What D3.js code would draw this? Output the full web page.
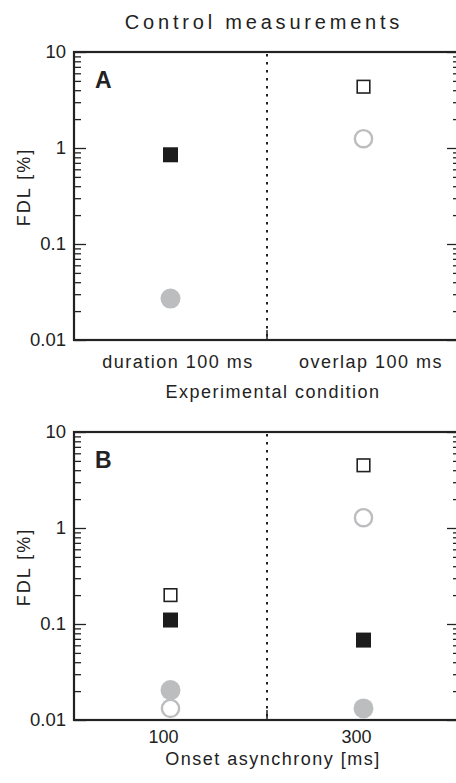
<!DOCTYPE html>
<html>
<head>
<meta charset="utf-8">
<script src="https://cdn.jsdelivr.net/npm/d3@7"></script>
<style>
  html, body { margin: 0; padding: 0; background: #fff; }
  svg { display: block; }
  text { font-family: "Liberation Sans", Arial, sans-serif; fill: #222; }
</style>
</head>
<body>
<svg id="chart" width="456" height="783"></svg>
<script>
// Panel A: control conditions
const conditionsA = ["duration 100 ms", "overlap 100 ms"];
const filledSquareA = [0.85, null];
const filledCircleA = [0.027, null];
const openSquareA   = [null, 4.35];
const openCircleA   = [null, 1.25];

// Panel B: onset asynchrony
const conditionsB = ["100", "300"];
const filledSquareB = [0.11, 0.068];
const filledCircleB = [0.0205, 0.0132];
const openSquareB   = [0.20, 4.5];
const openCircleB   = [0.0132, 1.28];

const yMajorTicks = [0.01, 0.1, 1, 10];
const yTickLabels = ["0.01", "0.1", "1", "10"];

const svg = d3.select("#chart");
const ink = "#222";
const grey = "#bcbdbf";

svg.append("text")
  .attr("x", 264).attr("y", 29)
  .attr("text-anchor", "middle")
  .style("font-size", "20px")
  .style("letter-spacing", "3.8px")
  .text("Control measurements");

// minor ticks for each decade (2..9 x 10^k)
const minorTicks = [];
for (let e = -2; e < 1; e++) for (let m = 2; m <= 9; m++) minorTicks.push(m * Math.pow(10, e));

function panel(cfg) {
  const left = 74, right = 460, top = cfg.top, bottom = cfg.top + 288;
  const g = svg.append("g");
  const x = d3.scalePoint().domain(cfg.categories).range([left, right]).padding(0.5);
  const y = d3.scaleLog().domain([0.01, 10]).range([bottom, top]);

  // left axis: major + minor ticks pointing inward
  const yl = g.append("g").attr("transform", `translate(${left},0)`)
    .call(d3.axisLeft(y).tickValues(yMajorTicks)
      .tickFormat((d, i) => yTickLabels[i]).tickSizeInner(-12).tickSizeOuter(0).tickPadding(8));
  yl.select(".domain").remove();
  yl.selectAll("line").attr("stroke", ink).attr("stroke-width", 1.3);
  yl.selectAll("text").style("font-size", "18.5px").attr("fill", ink);

  const ylm = g.append("g").attr("transform", `translate(${left},0)`)
    .call(d3.axisLeft(y).tickValues(minorTicks).tickFormat("").tickSizeInner(-7).tickSizeOuter(0));
  ylm.select(".domain").remove();
  ylm.selectAll("line").attr("stroke", ink).attr("stroke-width", 1.3);

  // right axis mirrors the ticks
  const yr = g.append("g").attr("transform", `translate(${right},0)`)
    .call(d3.axisRight(y).tickValues(yMajorTicks).tickFormat("").tickSizeInner(-13).tickSizeOuter(0));
  yr.select(".domain").remove();
  yr.selectAll("line").attr("stroke", ink).attr("stroke-width", 1.3);
  const yrm = g.append("g").attr("transform", `translate(${right},0)`)
    .call(d3.axisRight(y).tickValues(minorTicks).tickFormat("").tickSizeInner(-7).tickSizeOuter(0));
  yrm.select(".domain").remove();
  yrm.selectAll("line").attr("stroke", ink).attr("stroke-width", 1.3);

  // divider between the two conditions
  const mid = (x(cfg.categories[0]) + x(cfg.categories[1])) / 2;
  g.append("line").attr("x1", mid).attr("x2", mid).attr("y1", top + 2).attr("y2", bottom)
    .attr("stroke", ink).attr("stroke-width", 2).attr("stroke-dasharray", "2.5,5.5");
  g.append("line").attr("x1", mid).attr("x2", mid).attr("y1", bottom - 10).attr("y2", bottom)
    .attr("stroke", ink).attr("stroke-width", 1.5);

  // frame
  g.append("rect").attr("x", left).attr("y", top).attr("width", right - left).attr("height", bottom - top)
    .attr("fill", "none").attr("stroke", ink).attr("stroke-width", 2.2);

  // x axis labels
  const xa = g.append("g").attr("transform", `translate(0,${bottom})`)
    .call(d3.axisBottom(x).tickSize(0).tickPadding(0));
  xa.select(".domain").remove();
  xa.selectAll("text")
    .attr("y", cfg.tickBaseline).attr("dy", 0).attr("dx", cfg.tickDx)
    .style("font-size", "18px").style("letter-spacing", cfg.tickLs).attr("fill", ink);

  g.append("text")
    .attr("x", 273).attr("y", bottom + cfg.titleBaseline)
    .attr("text-anchor", "middle")
    .style("font-size", "18px").style("letter-spacing", "1.5px")
    .text(cfg.xTitle);

  g.append("text")
    .attr("transform", `translate(30,${(top + bottom) / 2 - 9}) rotate(-90)`)
    .attr("text-anchor", "middle")
    .style("font-size", "18px").style("letter-spacing", "2px")
    .attr("fill", "#333")
    .text("FDL [%]");

  g.append("text").attr("x", 95).attr("y", top + 36)
    .style("font-size", "23px").style("font-weight", "bold")
    .text(cfg.letter);

  const cats = cfg.categories;
  const pts = (arr) => arr.map((v, i) => ({ c: cats[i], v })).filter(d => d.v != null);

  // filled grey circles
  g.selectAll(null).data(pts(cfg.filledCircle)).join("circle")
    .attr("cx", d => x(d.c)).attr("cy", d => y(d.v)).attr("r", 10)
    .attr("fill", grey);
  // open grey circles
  g.selectAll(null).data(pts(cfg.openCircle)).join("circle")
    .attr("cx", d => x(d.c)).attr("cy", d => y(d.v)).attr("r", 8.6)
    .attr("fill", "#fff").attr("stroke", grey).attr("stroke-width", 2.4);
  // filled black squares
  g.selectAll(null).data(pts(cfg.filledSquare)).join("rect")
    .attr("x", d => x(d.c) - 7.5).attr("y", d => y(d.v) - 7.5)
    .attr("width", 15).attr("height", 15).attr("fill", "#1c1c1c");
  // open squares
  g.selectAll(null).data(pts(cfg.openSquare)).join("rect")
    .attr("x", d => x(d.c) - 6.3).attr("y", d => y(d.v) - 6.3)
    .attr("width", 12.6).attr("height", 12.6)
    .attr("fill", "#fff").attr("stroke", ink).attr("stroke-width", 1.6);
}

panel({
  top: 52, letter: "A", categories: conditionsA,
  filledSquare: filledSquareA, filledCircle: filledCircleA,
  openSquare: openSquareA, openCircle: openCircleA,
  tickBaseline: 28, tickDx: "7px", tickLs: "1.5px",
  xTitle: "Experimental condition", titleBaseline: 58
});

panel({
  top: 432, letter: "B", categories: conditionsB,
  filledSquare: filledSquareB, filledCircle: filledCircleB,
  openSquare: openSquareB, openCircle: openCircleB,
  tickBaseline: 23, tickDx: "-7.5px", tickLs: "0px",
  xTitle: "Onset asynchrony [ms]", titleBaseline: 45
});
</script>
</body>
</html>
